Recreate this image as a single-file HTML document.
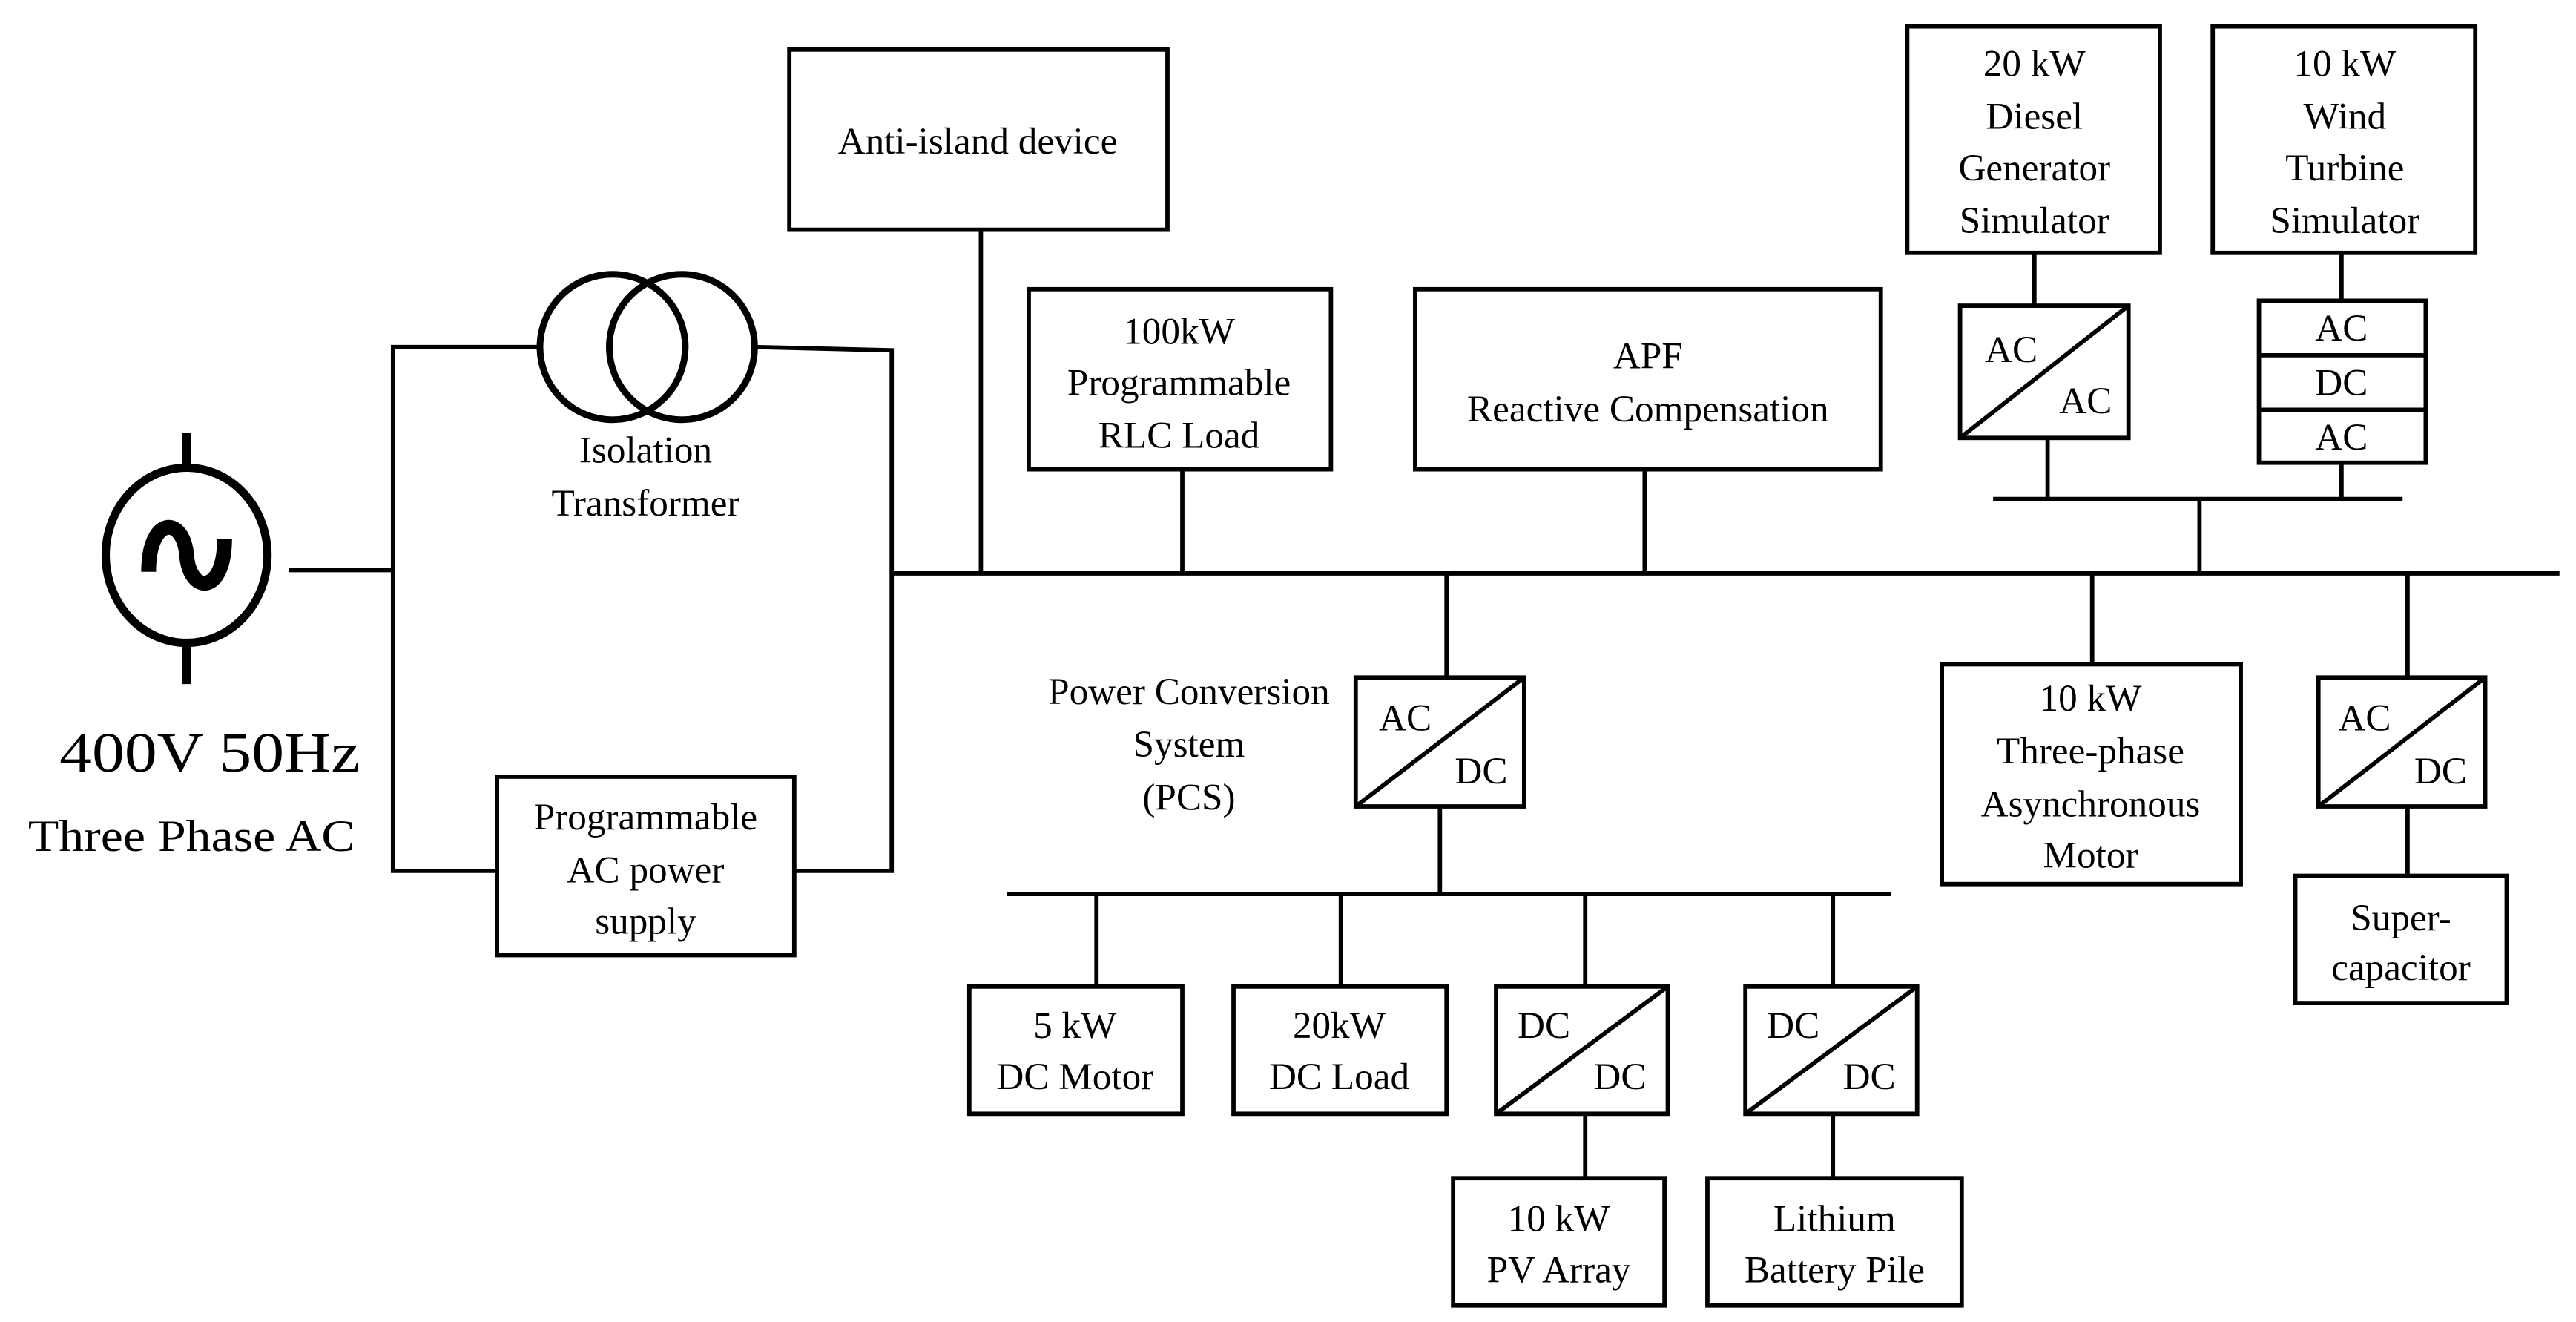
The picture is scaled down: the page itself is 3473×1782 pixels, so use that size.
<!DOCTYPE html>
<html><head><meta charset="utf-8"><style>html,body{margin:0;padding:0;background:#fff}svg{display:block}</style></head>
<body>
<svg width="3473" height="1782" viewBox="0 0 1560 800" preserveAspectRatio="none" xmlns="http://www.w3.org/2000/svg">
<g fill="none" stroke="#000" stroke-width="2.6">
<!-- generator -->
<ellipse cx="113" cy="336" rx="49" ry="53" stroke-width="5"/>
<line x1="113" y1="262" x2="113" y2="283" stroke-width="5"/>
<line x1="113" y1="389" x2="113" y2="414" stroke-width="5"/>
<path d="M90 346 C90 312 111 312 113 336 C115 360 136 360 136 326" stroke-width="9"/>
<line x1="175" y1="345" x2="238" y2="345"/>
<polyline points="326,210 238,210 238,527 301,527"/>
<circle cx="371" cy="210" r="44" stroke-width="4"/>
<circle cx="413" cy="210" r="44" stroke-width="4"/>
<polyline points="457,210 540,212 540,527 481,527"/>
<rect x="301" y="470" width="180" height="108"/>
<!-- main bus -->
<line x1="540" y1="347" x2="1550" y2="347"/>
<rect x="478" y="30" width="229" height="109"/>
<line x1="594" y1="139" x2="594" y2="347"/>
<rect x="623" y="175" width="183" height="109"/>
<line x1="716" y1="284" x2="716" y2="347"/>
<rect x="857" y="175" width="282" height="109"/>
<line x1="996" y1="284" x2="996" y2="347"/>
<rect x="1155" y="16" width="153" height="137"/>
<line x1="1232" y1="153" x2="1232" y2="185"/>
<rect x="1187" y="185" width="102" height="80"/>
<line x1="1187" y1="265" x2="1289" y2="185"/>
<line x1="1240" y1="265" x2="1240" y2="302"/>
<rect x="1340" y="16" width="159" height="137"/>
<line x1="1418" y1="153" x2="1418" y2="182"/>
<rect x="1368" y="182" width="101" height="98"/>
<line x1="1368" y1="215" x2="1469" y2="215"/>
<line x1="1368" y1="248" x2="1469" y2="248"/>
<line x1="1418" y1="280" x2="1418" y2="302"/>
<line x1="1207" y1="302" x2="1455" y2="302"/>
<line x1="1332" y1="302" x2="1332" y2="347"/>
<!-- PCS -->
<line x1="876" y1="347" x2="876" y2="410"/>
<rect x="821" y="410" width="102" height="78"/>
<line x1="821" y1="488" x2="923" y2="410"/>
<line x1="872" y1="488" x2="872" y2="541"/>
<line x1="610" y1="541" x2="1145" y2="541"/>
<line x1="664" y1="541" x2="664" y2="597"/>
<line x1="812" y1="541" x2="812" y2="597"/>
<line x1="960" y1="541" x2="960" y2="597"/>
<line x1="1110" y1="541" x2="1110" y2="597"/>
<rect x="587" y="597" width="129" height="77"/>
<rect x="747" y="597" width="129" height="77"/>
<rect x="906" y="597" width="104" height="77"/>
<line x1="906" y1="674" x2="1010" y2="597"/>
<rect x="1057" y="597" width="104" height="77"/>
<line x1="1057" y1="674" x2="1161" y2="597"/>
<line x1="960" y1="674" x2="960" y2="713"/>
<line x1="1110" y1="674" x2="1110" y2="713"/>
<rect x="880" y="713" width="128" height="77"/>
<rect x="1034" y="713" width="154" height="77"/>
<!-- motor -->
<line x1="1267" y1="347" x2="1267" y2="402"/>
<rect x="1176" y="402" width="181" height="133"/>
<line x1="1458" y1="347" x2="1458" y2="410"/>
<rect x="1404" y="410" width="101" height="78"/>
<line x1="1404" y1="488" x2="1505" y2="410"/>
<line x1="1458" y1="488" x2="1458" y2="530"/>
<rect x="1390" y="530" width="128" height="77"/>
</g>
<g font-family="'Liberation Serif',serif" font-size="23" text-anchor="middle" fill="#000">
<text x="36" y="467" font-size="34" text-anchor="start" textLength="182" lengthAdjust="spacingAndGlyphs">400V 50Hz</text>
<text x="17" y="515" font-size="27" text-anchor="start" textLength="198" lengthAdjust="spacingAndGlyphs">Three Phase AC</text>
<text x="391" y="280">Isolation</text>
<text x="391" y="312">Transformer</text>
<text x="391" y="502">Programmable</text>
<text x="391" y="534">AC power</text>
<text x="391" y="565">supply</text>
<text x="592" y="93">Anti-island device</text>
<text x="714" y="208">100kW</text>
<text x="714" y="239">Programmable</text>
<text x="714" y="271">RLC Load</text>
<text x="998" y="223">APF</text>
<text x="998" y="255">Reactive Compensation</text>
<text x="1232" y="46">20 kW</text>
<text x="1232" y="78">Diesel</text>
<text x="1232" y="109">Generator</text>
<text x="1232" y="141">Simulator</text>
<text x="1218" y="219">AC</text>
<text x="1263" y="250">AC</text>
<text x="1420" y="46">10 kW</text>
<text x="1420" y="78">Wind</text>
<text x="1420" y="109">Turbine</text>
<text x="1420" y="141">Simulator</text>
<text x="1418" y="206">AC</text>
<text x="1418" y="239">DC</text>
<text x="1418" y="272">AC</text>
<text x="720" y="426">Power Conversion</text>
<text x="720" y="458">System</text>
<text x="720" y="490">(PCS)</text>
<text x="851" y="442">AC</text>
<text x="897" y="474">DC</text>
<text x="651" y="628">5 kW</text>
<text x="651" y="659">DC Motor</text>
<text x="811" y="628">20kW</text>
<text x="811" y="659">DC Load</text>
<text x="935" y="628">DC</text>
<text x="981" y="659">DC</text>
<text x="1086" y="628">DC</text>
<text x="1132" y="659">DC</text>
<text x="944" y="745">10 kW</text>
<text x="944" y="776">PV Array</text>
<text x="1111" y="745">Lithium</text>
<text x="1111" y="776">Battery Pile</text>
<text x="1266" y="430">10 kW</text>
<text x="1266" y="462">Three-phase</text>
<text x="1266" y="494">Asynchronous</text>
<text x="1266" y="525">Motor</text>
<text x="1432" y="442">AC</text>
<text x="1478" y="474">DC</text>
<text x="1454" y="563">Super-</text>
<text x="1454" y="593">capacitor</text>
</g>
</svg>
</body></html>
